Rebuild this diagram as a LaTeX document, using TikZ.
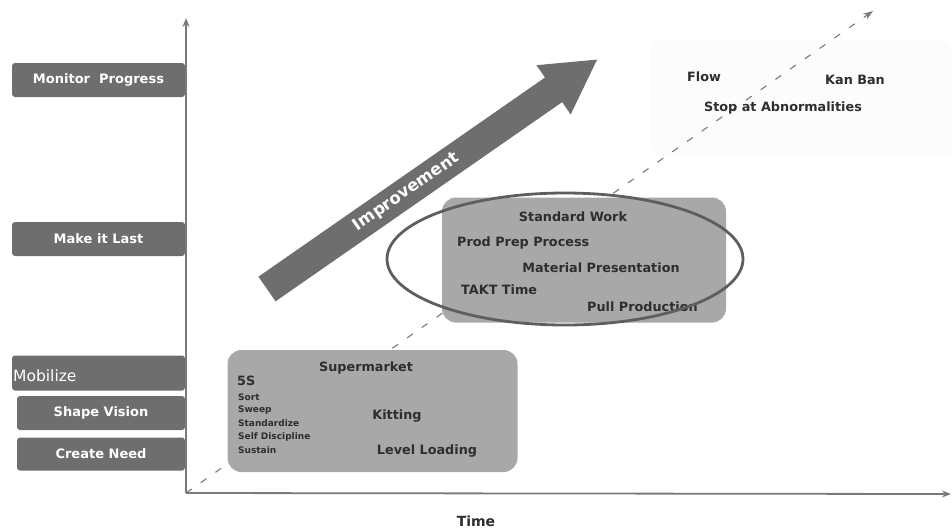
\documentclass[tikz,border=0pt]{standalone}
\usepackage{fontspec}
\setmainfont{DejaVu Sans}
\usetikzlibrary{arrows.meta}
\definecolor{phasegray}{HTML}{6E6E6E}
\definecolor{boxgray}{HTML}{A8A8A8}
\definecolor{inkgray}{HTML}{2E2E2E}
\definecolor{axisgray}{HTML}{7A7A7A}
\definecolor{ringgray}{HTML}{5E5E5E}
\begin{document}
\begin{tikzpicture}[x=1pt,y=-1pt,
  phase/.style={fill=phasegray, rounded corners=3pt, text=white,
    inner sep=0pt, minimum height=34pt,
    font=\bfseries\fontsize{13}{15}\selectfont},
  stagebox/.style={fill=boxgray, rounded corners=14pt, inner sep=0pt},
  item/.style={text=inkgray, inner sep=0pt, font=\bfseries\fontsize{12.8}{15}\selectfont},
  smallitem/.style={text=inkgray, inner sep=0pt, anchor=west, font=\bfseries\fontsize{9}{11}\selectfont},
  axis/.style={draw=axisgray, line width=1.8pt, -{Stealth[length=9pt,width=7pt]}},
  trend/.style={draw=axisgray, line width=1.1pt, dash pattern=on 7pt off 11pt,
    -{Stealth[length=10pt,width=7pt]}},
]
\useasboundingbox (0,0) rectangle (952,531);

% faint backdrop behind the top-level practices
\fill[black!1, rounded corners=10pt] (650,40) rectangle (952,156);

% axes and the dashed trend line
\coordinate (origin) at (186,493);
\coordinate (ytop) at (186,18);
\coordinate (xend) at (951,494);
\coordinate (trendend) at (873,11);
\draw[trend] (origin) -- (trendend);
\draw[axis] (origin) -- (ytop);
\draw[axis] (origin) -- (xend);
\node[font=\bfseries\fontsize{14}{16}\selectfont, text=inkgray] (time) at (476,521) {Time};

% phase labels on the vertical axis
\node[phase, minimum width=173pt] (monitor) at (98.5,80) {Monitor\ \ Progress};
\node[phase, minimum width=173pt] (last) at (98.5,239) {Make it Last};
\node[phase, minimum width=173pt, minimum height=35pt] (mobilize) at (98.5,373) {};
\node[text=white, anchor=west, inner sep=0pt, font=\fontsize{15.5}{17}\selectfont] (mobtext) at (13,376) {Mobilize};
\node[phase, minimum width=168pt] (vision) at (101,413) {Shape Vision};
\node[phase, minimum width=168pt, minimum height=33pt] (need) at (101,454) {Create Need};

% first stage: supermarket box
\node[stagebox, minimum width=290pt, minimum height=122pt] (stage1) at (372.5,411) {};
\node[item] (supermarket) at (366,368) {Supermarket};
\node[item, anchor=west] (fives) at (237,381) {5S};
\node[smallitem] (sort) at (238,397) {Sort};
\node[smallitem] (sweep) at (238,410) {Sweep};
\node[smallitem] (standardize) at (238,423) {Standardize};
\node[smallitem] (discipline) at (238,437) {Self Discipline};
\node[smallitem] (sustain) at (238,450) {Sustain};
\node[item] (kitting) at (397,416) {Kitting};
\node[item] (levelload) at (427,451) {Level Loading};

% second stage: standard work box and its ring
\node[stagebox, minimum width=284pt, minimum height=125pt] (stage2) at (584,260) {};
\node[item] (stdwork) at (573,217) {Standard Work};
\node[item, anchor=west] (prodprep) at (457,243) {Prod Prep Process};
\node[item] (material) at (601,268) {Material Presentation};
\node[item, anchor=west] (takt) at (461,290) {TAKT Time};
\node[item, anchor=west] (pull) at (587,307) {Pull Production};
\draw[ringgray, line width=2.8pt] (565,259) ellipse [x radius=178, y radius=66];

% third stage: top-level practices
\node[item] (flow) at (704,77) {Flow};
\node[item] (kanban) at (855,80) {Kan Ban};
\node[item] (stopab) at (783,108) {Stop at Abnormalities};

% improvement block arrow
\begin{scope}[shift={(267,289)}, rotate=34.8]
  \fill[phasegray] (0,-15) -- (349,-15) -- (349,-30) -- (402,0)
    -- (349,30) -- (349,15) -- (0,15) -- cycle;
  \node[transform shape, text=white, inner sep=0pt,
    font=\bfseries\fontsize{16.5}{18}\selectfont] (improve) at (170,0) {Improvement};
\end{scope}
\end{tikzpicture}
\end{document}
